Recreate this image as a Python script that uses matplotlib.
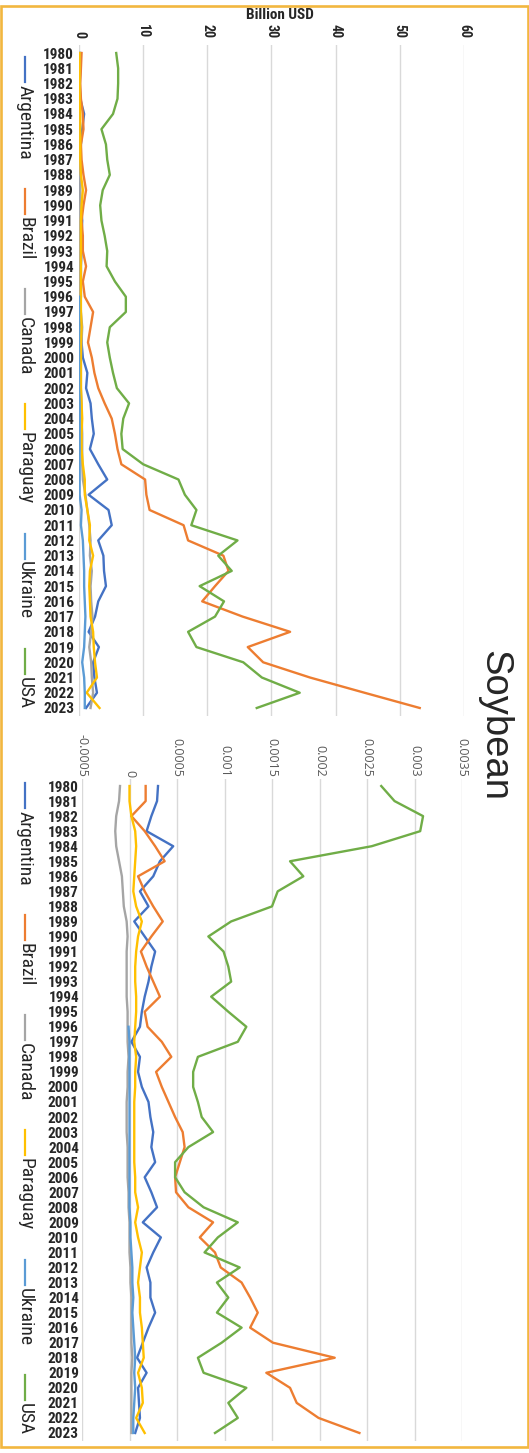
import numpy as np
import matplotlib
matplotlib.use("Agg")
import matplotlib.pyplot as plt
from matplotlib import font_manager
from matplotlib.lines import Line2D
from matplotlib.patches import Rectangle

years = list(range(1980, 2024))
countries = ["Argentina", "Brazil", "Canada", "Paraguay", "Ukraine", "USA"]
colors = ["#4472C4", "#ED7D31", "#A5A5A5", "#FFC000", "#5B9BD5", "#70AD47"]

# soybean export value, billion USD
value_argentina = [0.2, 0.2, 0.1, 0.2, 0.8, 0.5, 0.3, 0.2, 0.3, 0.1, 0.3, 0.5, 0.4,
                   0.4, 0.3, 0.3, 0.3, 0.1, 0.4, 0.4, 0.6, 1.3, 1.1, 1.8, 2.0, 2.3,
                   1.7, 3.0, 4.4, 1.5, 4.6, 5.1, 3.0, 3.8, 3.9, 4.2, 3.0, 2.5, 1.5,
                   3.1, 2.2, 2.4, 2.8, 1.1]
value_brazil = [0.4, 0.3, 0.2, 0.3, 0.6, 0.7, 0.3, 0.4, 0.7, 1.1, 0.7, 0.4, 0.6,
                0.6, 1.1, 0.6, 0.9, 2.2, 1.8, 1.4, 2.0, 2.4, 3.0, 4.0, 5.1, 5.6,
                6.0, 6.6, 10.3, 10.5, 11.0, 16.3, 17.0, 22.5, 23.3, 21.2, 19.2,
                25.5, 32.9, 26.3, 28.7, 36.0, 44.5, 53.1]
value_canada = [0.1, 0.1, 0.1, 0.1, 0.1, 0.1, 0.1, 0.1, 0.2, 0.2, 0.2, 0.2, 0.2,
                0.2, 0.2, 0.2, 0.2, 0.3, 0.5, 0.4, 0.3, 0.3, 0.3, 0.4, 0.4, 0.5,
                0.5, 0.5, 0.6, 1.0, 1.3, 1.6, 1.8, 1.7, 2.0, 1.8, 1.9, 2.1, 1.9,
                1.6, 1.9, 2.0, 2.2, 1.8]
value_paraguay = [0.1, 0.1, 0.1, 0.1, 0.2, 0.2, 0.2, 0.2, 0.3, 0.6, 0.4, 0.3, 0.3,
                  0.3, 0.3, 0.3, 0.3, 0.3, 0.4, 0.3, 0.3, 0.3, 0.3, 0.4, 0.5, 0.4,
                  0.4, 0.6, 0.9, 0.9, 1.3, 1.7, 1.6, 2.2, 1.7, 1.6, 1.7, 1.8, 2.2,
                  2.3, 2.5, 2.8, 1.2, 3.2]
value_ukraine = [None] * 16 + [0.0, 0.0, 0.0, 0.0, 0.0, 0.0, 0.0, 0.1, 0.1, 0.1,
                               0.1, 0.1, 0.1, 0.1, 0.4, 0.3, 0.6, 0.7, 0.8, 0.8,
                               0.9, 1.0, 0.9, 0.8, 0.5, 0.8, 0.9, 0.9]
value_usa = [5.8, 6.1, 6.1, 6.0, 5.3, 3.5, 4.2, 4.4, 4.8, 3.7, 3.3, 3.5, 4.0,
             4.4, 4.3, 5.6, 7.3, 7.3, 4.8, 4.4, 4.8, 5.3, 5.9, 7.8, 6.9, 6.6,
             6.8, 10.0, 15.5, 16.5, 18.3, 17.5, 24.7, 21.7, 23.8, 18.8, 22.6,
             21.2, 17.0, 18.3, 25.6, 28.5, 34.4, 27.7]

# share series, in thousandths
share_argentina = [0.30, 0.29, 0.23, 0.18, 0.46, 0.32, 0.25, 0.11, 0.20, 0.05, 0.16,
                   0.27, 0.23, 0.20, 0.16, 0.13, 0.11, 0.02, 0.11, 0.09, 0.13, 0.20,
                   0.22, 0.25, 0.23, 0.27, 0.16, 0.23, 0.29, 0.14, 0.33, 0.25, 0.18,
                   0.22, 0.22, 0.27, 0.20, 0.14, 0.08, 0.18, 0.09, 0.10, 0.11, 0.06]
share_brazil = [0.17, 0.17, 0.02, 0.16, 0.27, 0.37, 0.09, 0.16, 0.25, 0.35, 0.23,
                0.12, 0.18, 0.25, 0.32, 0.16, 0.19, 0.34, 0.44, 0.28, 0.34, 0.41,
                0.48, 0.56, 0.58, 0.53, 0.48, 0.49, 0.62, 0.88, 0.74, 0.90, 0.96,
                1.18, 1.27, 1.35, 1.27, 1.51, 2.16, 1.44, 1.69, 1.76, 1.99, 2.42]
share_canada = [-0.10, -0.11, -0.14, -0.15, -0.14, -0.11, -0.08, -0.07, -0.06, -0.03,
                -0.02, -0.03, -0.03, -0.03, -0.03, -0.02, -0.02, -0.02, -0.01, -0.02,
                -0.02, -0.03, -0.03, -0.03, -0.02, -0.02, -0.02, -0.01, -0.01, 0.00,
                0.00, 0.00, 0.01, 0.01, 0.02, 0.02, 0.02, 0.02, 0.03, 0.02, 0.02,
                0.02, 0.02, 0.02]
share_paraguay = [0.00, 0.00, 0.02, 0.06, 0.07, 0.06, 0.05, 0.04, 0.07, 0.13, 0.09,
                  0.07, 0.06, 0.06, 0.07, 0.07, 0.06, 0.05, 0.07, 0.06, 0.06, 0.05,
                  0.05, 0.05, 0.05, 0.05, 0.06, 0.06, 0.09, 0.06, 0.09, 0.13, 0.11,
                  0.09, 0.11, 0.11, 0.13, 0.14, 0.15, 0.09, 0.13, 0.14, 0.07, 0.16]
share_ukraine = [None] * 16 + [-0.01, 0.00, 0.00, 0.00, 0.00, 0.00, 0.00, 0.00,
                               0.00, 0.00, 0.00, 0.00, 0.00, 0.01, 0.01, 0.02,
                               0.03, 0.03, 0.04, 0.03, 0.04, 0.05, 0.06, 0.05,
                               0.06, 0.05, 0.04, 0.04]
share_usa = [2.65, 2.79, 3.09, 3.06, 2.55, 1.69, 1.83, 1.56, 1.50, 1.07, 0.83,
             0.99, 1.04, 1.07, 0.86, 1.04, 1.23, 1.14, 0.72, 0.67, 0.67, 0.72,
             0.76, 0.88, 0.62, 0.48, 0.48, 0.58, 0.78, 1.14, 0.93, 0.79, 1.16,
             0.92, 1.04, 0.92, 1.18, 0.97, 0.72, 0.78, 1.23, 1.04, 1.14, 0.90]

values = [value_argentina, value_brazil, value_canada, value_paraguay, value_ukraine, value_usa]
shares = [share_argentina, share_brazil, share_canada, share_paraguay, share_ukraine, share_usa]

top_ticks = list(range(0, 61, 10))
bottom_ticks = [round(v, 4) for v in np.arange(-5, 36, 5) * 1e-4]


def pick_font(*names):
    have = {f.name for f in font_manager.fontManager.ttflist}
    for n in names:
        if n in have:
            return n
    return "DejaVu Sans"


NARROW = pick_font("Liberation Sans Narrow", "Roboto Condensed", "Liberation Sans")
PLAIN = pick_font("Liberation Sans", "Arimo", "DejaVu Sans")
LIGHT = pick_font("Open Sans", "Noto Sans", "DejaVu Sans")
DARK = "#262626"

W, H = 529, 1453
fig = plt.figure(figsize=(W / 100, H / 100), dpi=100)
fig.patch.set_facecolor("white")


def box(x0, y0, x1, y1):
    # pixel box (top-left origin) -> figure fraction rect
    return [x0 / W, 1 - y1 / H, (x1 - x0) / W, (y1 - y0) / H]


def fxy(x, y):
    return x / W, 1 - y / H


def setup(ax, ticks, labels, xfont, xsize, xcolor, xpad, ypad):
    for s in ax.spines.values():
        s.set_visible(False)
    ax.xaxis.tick_top()
    ax.set_xticks(ticks)
    ax.set_xticklabels(labels)
    ax.set_xlim(ticks[0], ticks[-1])
    ax.set_ylim(years[-1] + 0.5, years[0] - 0.5)
    ax.set_yticks(years)
    ax.set_yticklabels([str(y) for y in years])
    ax.grid(axis="x", color="#D9D9D9", lw=1.0)
    ax.set_axisbelow(True)
    ax.tick_params(axis="x", length=0, pad=xpad, labelrotation=-90,
                   labelsize=xsize, labelcolor=xcolor)
    ax.tick_params(axis="y", length=0, pad=ypad, labelsize=11, labelcolor=DARK)
    for t in ax.get_xticklabels():
        t.set_fontfamily(xfont)
        if xfont == NARROW:
            t.set_fontweight("bold")
    for t in ax.get_yticklabels():
        t.set_fontfamily(NARROW)
        t.set_fontweight("bold")


ax_top = fig.add_axes(box(79, 45.4, 464, 715.6))
ax_bot = fig.add_axes(box(82, 778.5, 462, 1440.5))

setup(ax_top, top_ticks, [str(t) for t in top_ticks], NARROW, 10, DARK, 5.3, 3.6)
setup(ax_bot, bottom_ticks, [f"{t:g}" for t in bottom_ticks], LIGHT, 9, "#595959", 1.0, 2.2)

for name, c, v, s in zip(countries, colors, values, shares):
    ax_top.plot(np.array(v, dtype=float), years, color=c, lw=1.7, label=name,
                solid_joinstyle="round")
    ax_bot.plot(np.array(s, dtype=float) * 1e-3, years, color=c, lw=1.7, label=name,
                solid_joinstyle="round")

fig.text(*fxy(280, 15), "Billion USD", ha="center", va="center", fontsize=11,
         family=NARROW, weight="bold", color=DARK)

fig.text(*fxy(484, 725), "Soybean", rotation=-90, rotation_mode="anchor",
         ha="center", va="baseline", fontsize=27.5, family=PLAIN, color=DARK)

# legends drawn sideways, one per panel
renderer = fig.canvas.get_renderer()
for y0 in (57, 783):
    y = y0
    for name, c in zip(countries, colors):
        fig.add_artist(Line2D([24.5 / W, 24.5 / W], [1 - y / H, 1 - (y + 25) / H],
                              transform=fig.transFigure, color=c, lw=1.6))
        t = fig.text(*fxy(20, y + 28), name, rotation=-90, rotation_mode="anchor",
                     ha="left", va="baseline", fontsize=14, family=NARROW, color=DARK)
        length = t.get_window_extent(renderer).height
        y = y + 28 + length + 29

fig.add_artist(Rectangle(fxy(1.3, 1446.7), (527.5 - 1.3) / W, (1446.7 - 6.2) / H,
                         transform=fig.transFigure, fill=False,
                         edgecolor="#F2B73F", lw=1.9))

fig.savefig("out.png", dpi=100)
